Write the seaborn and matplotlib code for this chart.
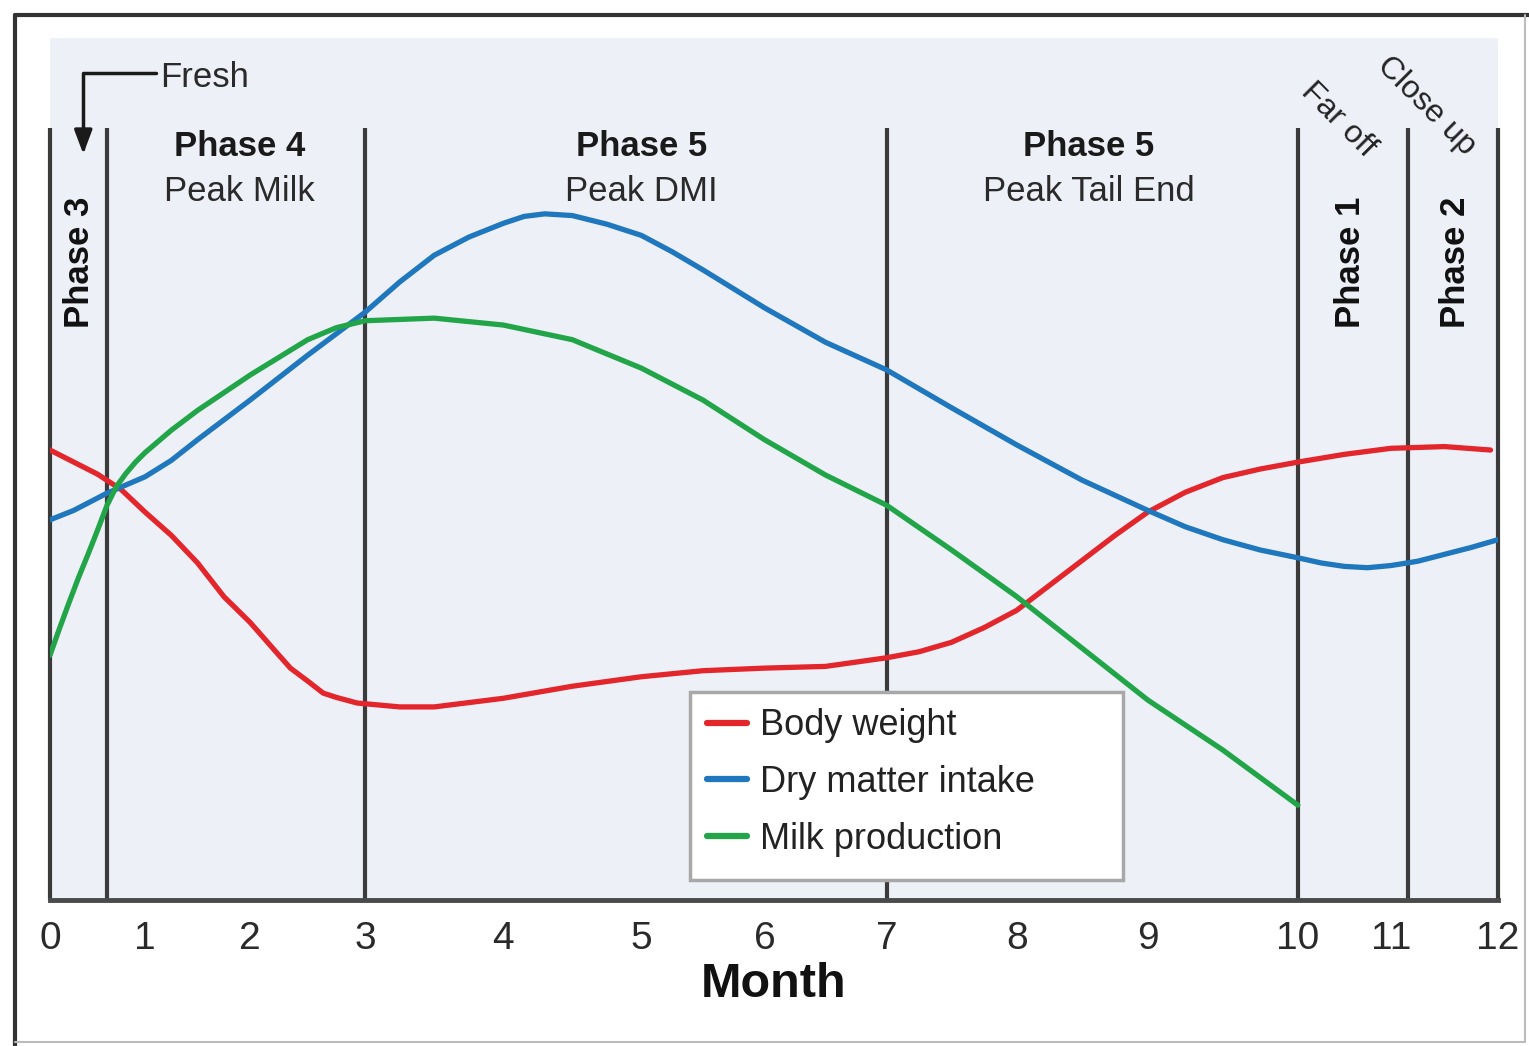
import numpy as np
import pandas as pd
import matplotlib
matplotlib.use("Agg")
import matplotlib.pyplot as plt
from matplotlib.lines import Line2D
from matplotlib.patches import Rectangle
import seaborn as sns

# ---------------- data ----------------
month_ticks = [0, 1, 2, 3, 4, 5, 6, 7, 8, 9, 10, 11, 12]
# uneven spacing of the month axis as drawn in the original
tick_spacing = [0, 95, 200, 315, 453, 591, 714, 836, 966, 1097, 1247, 1340, 1447]

bw_month = [0, 0.25, 0.5, 0.75, 1, 1.25, 1.5, 1.75, 2, 2.25, 2.35, 2.5, 2.635, 2.75,
            2.93, 3.25, 3.5, 4, 4.5, 5, 5.5, 6, 6.5, 7, 7.25, 7.5, 7.75, 8, 8.25,
            8.5, 8.75, 9, 9.25, 9.5, 9.75, 10, 10.5, 11, 11.5, 11.93]
bw_value = [52.2, 50.8, 49.4, 47.6, 45.0, 42.3, 39.1, 35.2, 32.2, 28.4, 26.9, 25.4,
            24.0, 23.5, 22.85, 22.4, 22.4, 23.4, 24.8, 25.9, 26.6, 26.9, 27.1, 28.1,
            28.8, 29.9, 31.6, 33.6, 36.5, 39.4, 42.3, 45.0, 47.3, 49.0, 50.0, 50.8,
            51.7, 52.4, 52.6, 52.2]

dmi_month = [0, 0.25, 0.6, 1, 1.25, 1.5, 2, 2.5, 3, 3.25, 3.5, 3.75, 4, 4.15, 4.3,
             4.5, 4.75, 5, 5.25, 5.5, 6, 6.5, 7, 7.5, 8, 8.5, 9, 9.25, 9.5, 9.75, 10,
             10.25, 10.5, 10.75, 11, 11.25, 11.5, 11.75, 12]
dmi_value = [44.1, 45.2, 47.2, 49.1, 51.0, 53.4, 58.0, 63.2, 68.2, 71.7, 74.8, 76.9,
             78.5, 79.3, 79.6, 79.4, 78.4, 77.1, 75.2, 73.1, 68.7, 64.7, 61.5, 57.1,
             52.8, 48.7, 45.2, 43.3, 41.8, 40.6, 39.7, 39.1, 38.7, 38.55, 38.8, 39.3,
             40.1, 40.9, 41.8]

milk_month = [0, 0.1, 0.2, 0.3, 0.4, 0.5, 0.6, 0.7, 0.8, 0.9, 1, 1.25, 1.5, 2, 2.5,
              2.75, 3, 3.5, 4, 4.5, 5, 5.5, 6, 6.5, 7, 7.5, 8, 8.5, 9, 9.5, 10]
milk_value = [28.4, 31.5, 34.5, 37.4, 40.1, 42.9, 45.8, 48.0, 49.5, 50.8, 51.9, 54.5,
              56.8, 60.9, 65.0, 66.4, 67.2, 67.5, 66.7, 65.0, 61.7, 58.0, 53.4, 49.3,
              45.8, 40.6, 35.2, 29.2, 23.2, 17.4, 11.0]

series_names = ["Body weight", "Dry matter intake", "Milk production"]
series_colors = ["#e3262b", "#1f77bd", "#22a548"]

phase_bounds = [0, 0.6, 3, 7, 10, 11.16, 12]

df = pd.concat([
    pd.DataFrame({"Month": bw_month, "Level": bw_value, "Series": series_names[0]}),
    pd.DataFrame({"Month": dmi_month, "Level": dmi_value, "Series": series_names[1]}),
    pd.DataFrame({"Month": milk_month, "Level": milk_value, "Series": series_names[2]}),
], ignore_index=True)

# ---------------- style ----------------
sns.set_theme(style="white")
plt.rcParams["font.family"] = ["Liberation Sans", "DejaVu Sans"]

fig = plt.figure(figsize=(15.29, 10.46), dpi=100)
fig.patch.set_facecolor("white")
ax = fig.add_axes([50 / 1529, 1 - 900 / 1046, 1448 / 1529, 862 / 1046])
ax.set_facecolor("#edf0f7")

fwd = lambda m: np.interp(m, month_ticks, tick_spacing)
inv = lambda p: np.interp(p, tick_spacing, month_ticks)
ax.set_xscale("function", functions=(fwd, inv))

palette = dict(zip(series_names, series_colors))
sns.lineplot(data=df, x="Month", y="Level", hue="Series", palette=palette,
             linewidth=3.8, ax=ax, legend=False, sort=False, zorder=3,
             solid_joinstyle="round", solid_capstyle="round")

ax.set_xlim(0, 12)
ax.set_ylim(0, 100)

# phase boundaries
top_frac = (900 - 128) / 862
for b in phase_bounds:
    ax.axvline(b, ymin=0, ymax=top_frac, color="#3b3b3b", lw=3.0, zorder=2,
               clip_on=False, solid_capstyle="butt")

for s in ["top", "left", "right"]:
    ax.spines[s].set_visible(False)
ax.spines["bottom"].set_color("#4a4a4a")
ax.spines["bottom"].set_linewidth(3.5)

ax.set_xticks(month_ticks)
ax.set_xticklabels([str(m) for m in month_ticks])
ax.tick_params(axis="x", length=0, pad=15, labelsize=28, colors="#2a2a2a")
ax.set_yticks([])
ax.set_ylabel("")
ax.set_xlabel("Month", fontsize=35, fontweight="bold", labelpad=4, color="#111111")

# phase titles
def py(p):
    return (900 - p) / 8.62

big = 25
ax.text(1.9, py(147), "Phase 4", ha="center", va="center", fontsize=big, fontweight="bold", color="#1a1a1a")
ax.text(1.9, py(192), "Peak Milk", ha="center", va="center", fontsize=big, color="#2a2a2a")
ax.text(5.0, py(147), "Phase 5", ha="center", va="center", fontsize=big, fontweight="bold", color="#1a1a1a")
ax.text(5.0, py(192), "Peak DMI", ha="center", va="center", fontsize=big, color="#2a2a2a")
ax.text(8.55, py(147), "Phase 5", ha="center", va="center", fontsize=big, fontweight="bold", color="#1a1a1a")
ax.text(8.55, py(192), "Peak Tail End", ha="center", va="center", fontsize=big, color="#2a2a2a")

ax.text(0.31, py(262), "Phase 3", ha="center", va="center", rotation=90, fontsize=25, fontweight="bold", color="#111111")
ax.text(10.57, py(262), "Phase 1", ha="center", va="center", rotation=90, fontsize=25, fontweight="bold", color="#111111")
ax.text(11.6, py(262), "Phase 2", ha="center", va="center", rotation=90, fontsize=25, fontweight="bold", color="#111111")

ax.text(10.43, py(120), "Far off", ha="center", va="center", rotation=-45, fontsize=23, color="#222222")
ax.text(11.33, py(106), "Close up", ha="center", va="center", rotation=-45, fontsize=23, color="#222222")

# Fresh annotation
ax.text(1.14, py(78), "Fresh", ha="left", va="center", fontsize=25, color="#2a2a2a")
ax.annotate("", xy=(0.35, py(154)), xytext=(1.1, py(73)),
            arrowprops=dict(arrowstyle="-|>,head_length=1.2,head_width=0.45", color="#1a1a1a", lw=2.5,
                            connectionstyle="angle,angleA=0,angleB=90,rad=0",
                            shrinkA=0, shrinkB=0))

# legend (frame drawn separately to match the original box)
fig.add_artist(Rectangle((690 / 1529, 1 - 880 / 1046), 433 / 1529, 188 / 1046,
                         transform=fig.transFigure, facecolor="white", edgecolor="#a8a8a8",
                         lw=2.5, zorder=4))
handles = [Line2D([0], [0], color=c, lw=4.5) for c in series_colors]
leg = fig.legend(handles, series_names, loc="upper left",
                 bbox_to_anchor=(700 / 1529, 1 - 701 / 1046), bbox_transform=fig.transFigure,
                 fontsize=26, frameon=False, borderaxespad=0,
                 handlelength=1.1, handletextpad=0.35, labelspacing=0.6,
                 borderpad=0.2)
leg.set_zorder(5)
for t in leg.get_texts():
    t.set_color("#222222")

# outer frame of the picture
fig.add_artist(Line2D([15 / 1529, 1.0], [1 - 15 / 1046, 1 - 15 / 1046], transform=fig.transFigure,
                      color="#333333", lw=3))
fig.add_artist(Line2D([15 / 1529, 15 / 1529], [0, 1 - 15 / 1046], transform=fig.transFigure,
                      color="#333333", lw=3))
fig.add_artist(Line2D([1525 / 1529, 1525 / 1529], [0.004, 1 - 15 / 1046], transform=fig.transFigure,
                      color="#bbbbbb", lw=1.5))
fig.add_artist(Line2D([15 / 1529, 1525 / 1529], [0.004, 0.004], transform=fig.transFigure,
                      color="#bbbbbb", lw=1.5))

fig.savefig("out.png", dpi=100, facecolor="white")
